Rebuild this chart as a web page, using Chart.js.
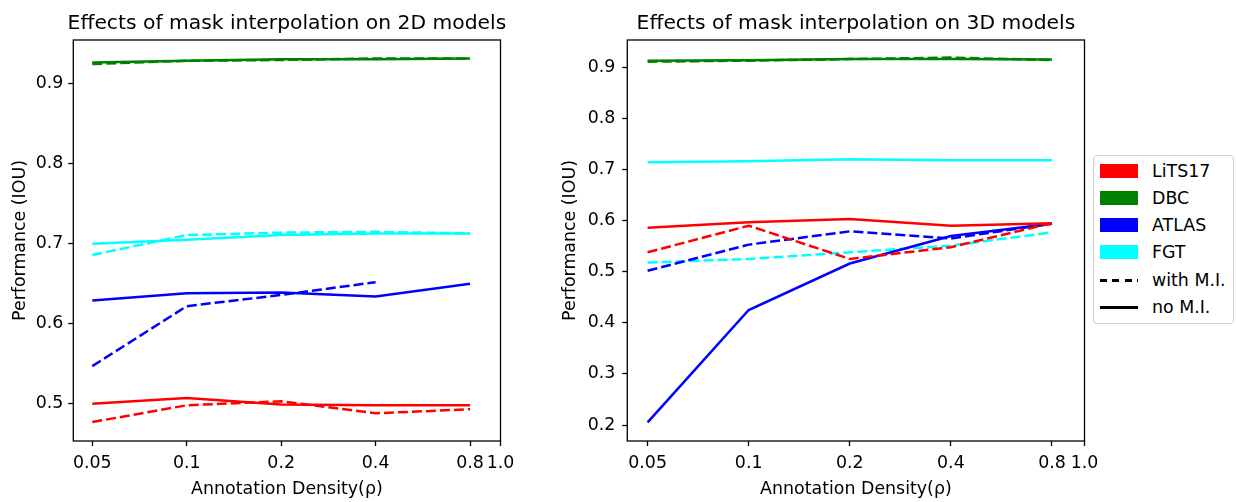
<!DOCTYPE html>
<html>
<head>
<meta charset="utf-8">
<script src="https://cdn.jsdelivr.net/npm/chart.js@4/dist/chart.umd.min.js"></script>
<style>
  html, body { margin: 0; padding: 0; background: #fff; }
  #wrap { position: relative; width: 1236px; height: 502px; overflow: hidden; background: #fff; }
  canvas { position: absolute; top: 0; }
  #c2d { left: 0; }
  #c3d { left: 550px; }
  #legend { position: absolute; left: 1093px; top: 155px; width: 139px; height: 167px;
            border: 1px solid #d0d0d0; border-radius: 4px; background: #fff;
            font-family: 'DejaVu Sans', sans-serif; font-size: 17.4px; color: #000; }
  .row { position: absolute; left: 0; height: 20px; width: 139px; }
  .sw { position: absolute; left: 6px; top: 3px; width: 38px; height: 14px; }
  .lbl { position: absolute; left: 58px; top: 0; line-height: 20px; white-space: nowrap; }
  .ln { position: absolute; left: 6px; top: 9px; width: 38px; height: 2.5px; }
</style>
</head>
<body>
<div id="wrap">
  <canvas id="c2d" width="550" height="502"></canvas>
  <canvas id="c3d" width="560" height="502"></canvas>
  <div id="legend"></div>
</div>
<script>
// ---------- data ----------
const densities = [0.05, 0.1, 0.2, 0.4, 0.8];
const xTickValues = [0.05, 0.1, 0.2, 0.4, 0.8, 1.0];
const xTickLabels = ['0.05', '0.1', '0.2', '0.4', '0.8', '1.0'];

const datasetNames = ['LiTS17', 'DBC', 'ATLAS', 'FGT'];
const datasetColors = ['#ff0000', '#008000', '#0000ff', '#00ffff'];

// 2D models
const lits2dWithMI  = [0.477, 0.498, 0.503, 0.488, 0.493];
const lits2dNoMI    = [0.500, 0.507, 0.499, 0.498, 0.498];
const dbc2dWithMI   = [0.925, 0.929, 0.930, 0.932, 0.932];
const dbc2dNoMI     = [0.927, 0.929, 0.931, 0.931, 0.932];
const atlas2dWithMI = [0.547, 0.622, 0.636, 0.652, null];
const atlas2dNoMI   = [0.629, 0.638, 0.639, 0.634, 0.650];
const fgt2dWithMI   = [0.686, 0.711, 0.714, 0.715, 0.713];
const fgt2dNoMI     = [0.700, 0.705, 0.711, 0.713, 0.713];

// 3D models
const lits3dWithMI  = [0.538, 0.590, 0.525, 0.548, 0.595];
const lits3dNoMI    = [0.586, 0.597, 0.603, 0.590, 0.595];
const dbc3dWithMI   = [0.911, 0.913, 0.916, 0.919, 0.914];
const dbc3dNoMI     = [0.913, 0.914, 0.916, 0.916, 0.915];
const atlas3dWithMI = [0.502, 0.553, 0.579, 0.565, 0.594];
const atlas3dNoMI   = [0.205, 0.425, 0.516, 0.570, 0.594];
const fgt3dWithMI   = [0.518, 0.525, 0.538, 0.551, 0.577];
const fgt3dNoMI     = [0.714, 0.716, 0.720, 0.718, 0.718];

const yTicks2d = [0.5, 0.6, 0.7, 0.8, 0.9];
const yTicks3d = [0.2, 0.3, 0.4, 0.5, 0.6, 0.7, 0.8, 0.9];

// ---------- chart helpers ----------
Chart.defaults.font.family = "'DejaVu Sans', sans-serif";
Chart.defaults.color = '#000';

const DASH = [10, 4];
const LW = 2.5;
const FS = 17.4;

function series(values, color, dashed) {
  return {
    data: densities.map((d, i) => ({ x: d, y: values[i] })),
    borderColor: color,
    backgroundColor: color,
    borderWidth: LW,
    borderDash: dashed ? DASH : [],
    pointRadius: 0,
    pointHoverRadius: 0,
    tension: 0,
    fill: false,
    spanGaps: false,
    borderCapStyle: 'butt'
  };
}

// frame around the plot area + title centred over the plot area
const framePlugin = {
  id: 'frame',
  afterDraw(chart, args, opts) {
    const a = chart.chartArea;
    const ctx = chart.ctx;
    ctx.save();
    ctx.strokeStyle = '#000';
    ctx.lineWidth = 1.3;
    ctx.strokeRect(a.left, a.top, a.right - a.left, a.bottom - a.top);
    ctx.fillStyle = '#000';
    ctx.font = "20.3px 'DejaVu Sans', sans-serif";
    ctx.textAlign = 'center';
    ctx.textBaseline = 'alphabetic';
    ctx.fillText(opts.text, (a.left + a.right) / 2, 28.5);
    ctx.restore();
  }
};

function makeChart(id, title, sets, yMin, yMax, yTicks, yWidth, rightPad, yTickPad) {
  const ds = [];
  sets.forEach((s, k) => {
    ds.push(series(s[0], datasetColors[k], true));
    ds.push(series(s[1], datasetColors[k], false));
  });
  return new Chart(document.getElementById(id), {
    type: 'line',
    data: { datasets: ds },
    options: {
      responsive: false,
      animation: false,
      events: [],
      layout: { padding: { left: 0, right: rightPad, top: 40, bottom: 0 } },
      plugins: {
        legend: { display: false },
        tooltip: { enabled: false },
        title: { display: false },
        frame: { text: title }
      },
      scales: {
        x: {
          type: 'logarithmic',
          min: 0.0435,
          max: 1.0,
          afterBuildTicks: (scale) => { scale.ticks = xTickValues.map(v => ({ value: v })); },
          afterFit: (scale) => { scale.height = 61; },
          ticks: {
            autoSkip: false, maxRotation: 0, minRotation: 0,
            padding: 7,
            font: { size: FS },
            color: '#000',
            callback: (v, i) => xTickLabels[i]
          },
          grid: { display: true, drawOnChartArea: false, drawTicks: true, tickLength: 5, tickColor: '#000', tickWidth: 1.3 },
          border: { display: false },
          title: {
            display: true,
            text: 'Annotation Density(ρ)',
            font: { size: FS },
            color: '#000',
            padding: { top: 0, bottom: 2.3 }
          }
        },
        y: {
          type: 'linear',
          min: yMin,
          max: yMax,
          afterBuildTicks: (scale) => { scale.ticks = yTicks.map(v => ({ value: v })); },
          afterFit: (scale) => { scale.width = yWidth; },
          ticks: {
            padding: yTickPad,
            font: { size: FS },
            color: '#000',
            callback: (v) => Number(v).toFixed(1)
          },
          grid: { display: true, drawOnChartArea: false, drawTicks: true, tickLength: 5, tickColor: '#000', tickWidth: 1.3 },
          border: { display: false },
          title: {
            display: true,
            text: 'Performance (IOU)',
            font: { size: FS },
            color: '#000',
            padding: { top: 9.9, bottom: 0 }
          }
        }
      }
    },
    plugins: [framePlugin]
  });
}

makeChart('c2d', 'Effects of mask interpolation on 2D models',
  [[lits2dWithMI, lits2dNoMI], [dbc2dWithMI, dbc2dNoMI], [atlas2dWithMI, atlas2dNoMI], [fgt2dWithMI, fgt2dNoMI]],
  0.4533, 0.955, yTicks2d, 73.3, 49.5, 5);

makeChart('c3d', 'Effects of mask interpolation on 3D models',
  [[lits3dWithMI, lits3dNoMI], [dbc3dWithMI, dbc3dNoMI], [atlas3dWithMI, atlas3dNoMI], [fgt3dWithMI, fgt3dNoMI]],
  0.1687, 0.9534, yTicks3d, 77.3, 25.5, 7);

// ---------- legend ----------
const legend = document.getElementById('legend');
const rowTops = [5, 32, 59, 86, 114, 141];
datasetNames.forEach((name, k) => {
  const r = document.createElement('div');
  r.className = 'row';
  r.style.top = rowTops[k] + 'px';
  r.innerHTML = '<div class="sw" style="background:' + datasetColors[k] + '"></div><div class="lbl">' + name + '</div>';
  legend.appendChild(r);
});
[['with M.I.', true], ['no M.I.', false]].forEach((e, j) => {
  const r = document.createElement('div');
  r.className = 'row';
  r.style.top = rowTops[4 + j] + 'px';
  const bg = e[1]
    ? 'repeating-linear-gradient(to right, #000 0 7px, transparent 7px 12.3px)'
    : '#000';
  r.innerHTML = '<div class="ln" style="background:' + bg + '"></div><div class="lbl">' + e[0] + '</div>';
  legend.appendChild(r);
});
</script>
</body>
</html>
